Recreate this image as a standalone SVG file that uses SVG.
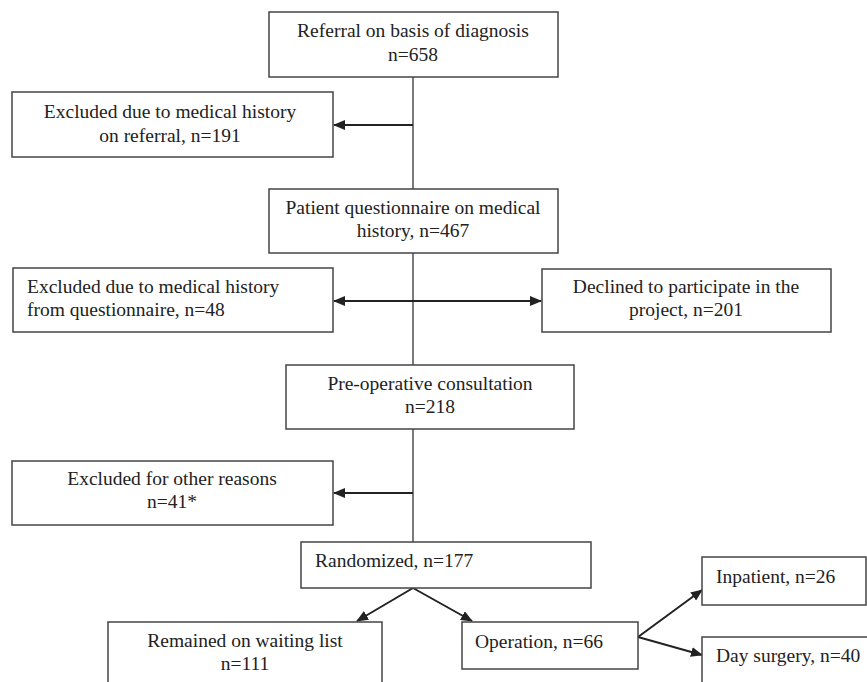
<svg xmlns="http://www.w3.org/2000/svg" width="867" height="682" viewBox="0 0 867 682">
<style>
.box{fill:#fff;stroke:#444;stroke-width:1.5}
.t{font-family:"Liberation Serif","Times New Roman",serif;font-size:19.5px;fill:#222}
.c{text-anchor:middle}
.ln{stroke:#333;stroke-width:1.3;fill:none}
.ar{stroke:#222;stroke-width:2;fill:none}
</style>
<defs>
<marker id="ah" viewBox="0 0 12 10" refX="11" refY="5" markerWidth="12" markerHeight="10" markerUnits="userSpaceOnUse" orient="auto-start-reverse">
<path d="M0,0 L12,5 L0,10 Z" fill="#222"/>
</marker>
</defs>
<rect width="867" height="682" fill="#fff"/>
<g id="connectors">
<line class="ln" x1="413" y1="77" x2="413" y2="189"/>
<line class="ar" x1="413" y1="125" x2="334" y2="125" marker-end="url(#ah)"/>
<line class="ln" x1="413" y1="253" x2="413" y2="365"/>
<line class="ar" x1="334" y1="301" x2="541" y2="301" marker-start="url(#ah)" marker-end="url(#ah)"/>
<line class="ln" x1="413" y1="429" x2="413" y2="542"/>
<line class="ar" x1="413" y1="493" x2="334" y2="493" marker-end="url(#ah)"/>
<line class="ar" x1="413" y1="588" x2="357" y2="621" marker-end="url(#ah)"/>
<line class="ar" x1="413" y1="588" x2="472" y2="621" marker-end="url(#ah)"/>
<line class="ar" x1="638" y1="637" x2="702" y2="590" marker-end="url(#ah)"/>
<line class="ar" x1="638" y1="637" x2="702" y2="655" marker-end="url(#ah)"/>
</g>
<g id="referral">
<rect class="box" x="269" y="12" width="289" height="65"/>
<text class="t c" x="413" y="37">Referral on basis of diagnosis</text>
<text class="t c" x="413" y="61">n=658</text>
</g>
<g id="excluded-referral">
<rect class="box" x="12" y="92" width="321" height="65"/>
<text class="t c" x="170" y="118">Excluded due to medical history</text>
<text class="t c" x="170" y="142">on referral, n=191</text>
</g>
<g id="questionnaire">
<rect class="box" x="269" y="189" width="289" height="64"/>
<text class="t c" x="413" y="214">Patient questionnaire on medical</text>
<text class="t c" x="413" y="237">history, n=467</text>
</g>
<g id="excluded-questionnaire">
<rect class="box" x="13" y="268" width="320" height="64"/>
<text class="t" x="27" y="293">Excluded due to medical history</text>
<text class="t" x="27" y="316">from questionnaire, n=48</text>
</g>
<g id="declined">
<rect class="box" x="542" y="269" width="289" height="63"/>
<text class="t c" x="686" y="293">Declined to participate in the</text>
<text class="t c" x="686" y="316">project, n=201</text>
</g>
<g id="preop">
<rect class="box" x="286" y="365" width="288" height="64"/>
<text class="t c" x="430" y="390">Pre-operative consultation</text>
<text class="t c" x="430" y="413">n=218</text>
</g>
<g id="excluded-other">
<rect class="box" x="12" y="461" width="321" height="64"/>
<text class="t c" x="172" y="485">Excluded for other reasons</text>
<text class="t c" x="172" y="508">n=41*</text>
</g>
<g id="randomized">
<rect class="box" x="301" y="542" width="290" height="46"/>
<text class="t" x="315" y="567">Randomized, n=177</text>
</g>
<g id="waiting">
<rect class="box" x="108" y="622" width="274" height="70"/>
<text class="t c" x="245" y="647">Remained on waiting list</text>
<text class="t c" x="245" y="670">n=111</text>
</g>
<g id="operation">
<rect class="box" x="462" y="622" width="176" height="47"/>
<text class="t" x="475" y="648">Operation, n=66</text>
</g>
<g id="inpatient">
<rect class="box" x="702" y="557" width="164" height="48"/>
<text class="t" x="716" y="583">Inpatient, n=26</text>
</g>
<g id="daysurgery">
<rect class="box" x="702" y="637" width="175" height="60"/>
<text class="t" x="716" y="662">Day surgery, n=40</text>
</g>
</svg>
